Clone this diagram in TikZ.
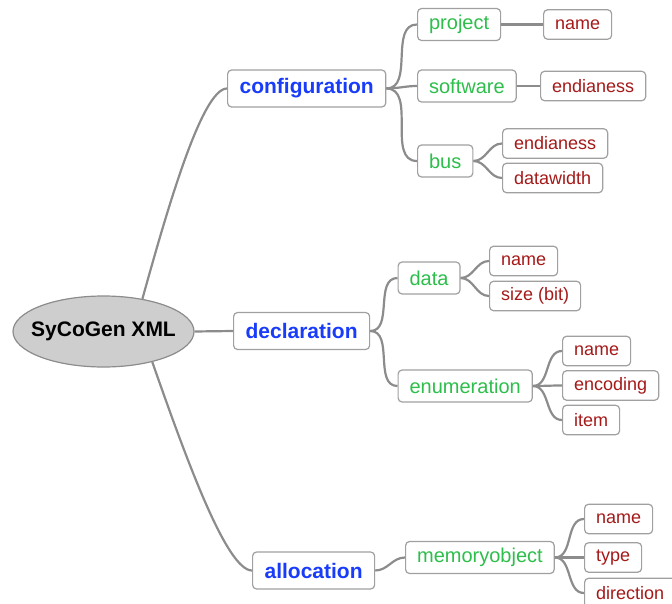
\documentclass[tikz,border=0pt]{standalone}
\usepackage{fontspec}
\setmainfont{Liberation Sans}
\usepackage{tikz}
\usetikzlibrary{shapes.geometric}
\definecolor{myblue}{RGB}{25,60,250}
\definecolor{mygreen}{RGB}{45,190,75}
\definecolor{myred}{RGB}{165,25,25}
\definecolor{mygray}{RGB}{140,140,140}
\definecolor{myborder}{RGB}{160,160,160}
\definecolor{myfill}{RGB}{206,206,206}

\begin{document}
\begin{tikzpicture}[x=1pt, y=1pt,
  box/.style={draw=myborder, fill=white, rounded corners=4pt, line width=1.2pt},
  topic/.style={box, anchor=west, text=myblue, font=\fontsize{21}{25}\selectfont\bfseries,
                minimum height=37pt, inner xsep=12pt},
  sub/.style={box, anchor=west, text=mygreen, font=\fontsize{20}{24}\selectfont,
              minimum height=32pt, inner xsep=11.5pt},
  leaf/.style={box, anchor=west, text=myred, font=\fontsize{18}{22}\selectfont,
               minimum height=29.5pt, inner xsep=11.5pt},
  link/.style={draw=mygray, line width=2.2pt},
  branch/.style={link, out=0, in=180}]
  \useasboundingbox (0,0) rectangle (672,-604);
  \clip (0,0) rectangle (672,-604);
  % Root
  \node[ellipse, draw=mygray, fill=myfill, line width=1.2pt, minimum width=181pt,
        minimum height=71pt, inner xsep=-12pt, inner ysep=0pt,
        font=\fontsize{21}{25}\selectfont\bfseries]
    (root) at (103.5,-331.5) {SyCoGen XML};
  % Topics
  \node[topic] (config) at (227,-88.5) {configuration};
  \node[topic] (decl) at (233,-331) {declaration};
  \node[topic] (alloc) at (252,-570.5) {allocation};
  \draw[link] (root.40) .. controls +(25,90) and +(-25,0) .. (config.west);
  \draw[link] (root.east) -- (decl.west);
  \draw[link] (root.-32) .. controls +(35,-100) and +(-25,0) .. (alloc.west);
  % configuration
  \node[sub] (project) at (417,-24.5) {project};
  \node[sub] (software) at (417,-86) {software};
  \node[sub] (bus) at (417,-161) {bus};
  \node[leaf] (projname) at (543,-24.5) {name};
  \node[leaf] (swendian) at (540,-86) {endianess};
  \node[leaf] (busendian) at (502,-143.5) {endianess};
  \node[leaf] (buswidth) at (502,-178) {datawidth};
  \draw[branch] (config.east) to (project.west);
  \draw[branch] (config.east) to (software.west);
  \draw[branch] (config.east) to (bus.west);
  \draw[branch] (project.east) to (projname.west);
  \draw[branch] (software.east) to (swendian.west);
  \draw[branch] (bus.east) to (busendian.west);
  \draw[branch] (bus.east) to (buswidth.west);
  % declaration
  \node[sub] (data) at (397.5,-278) {data};
  \node[sub] (enum) at (397.5,-386) {enumeration};
  \node[leaf] (dataname) at (489,-261) {name};
  \node[leaf] (datasize) at (489,-296) {size (bit)};
  \node[leaf] (enumname) at (562,-351) {name};
  \node[leaf] (enumenc) at (562,-385.5) {encoding};
  \node[leaf] (enumitem) at (562,-420) {item};
  \draw[branch] (decl.east) to (data.west);
  \draw[branch] (decl.east) to (enum.west);
  \draw[branch] (data.east) to (dataname.west);
  \draw[branch] (data.east) to (datasize.west);
  \draw[branch] (enum.east) to (enumname.west);
  \draw[branch] (enum.east) to (enumenc.west);
  \draw[branch] (enum.east) to (enumitem.west);
  % allocation
  \node[sub] (memobj) at (405,-557.5) {memoryobject};
  \node[leaf] (memname) at (584,-519) {name};
  \node[leaf] (memtype) at (584,-557.5) {type};
  \node[leaf] (memdir) at (584,-593) {direction};
  \draw[branch] (alloc.east) to (memobj.west);
  \draw[branch] (memobj.east) to (memname.west);
  \draw[branch] (memobj.east) to (memtype.west);
  \draw[branch] (memobj.east) to (memdir.west);
\end{tikzpicture}
\end{document}
